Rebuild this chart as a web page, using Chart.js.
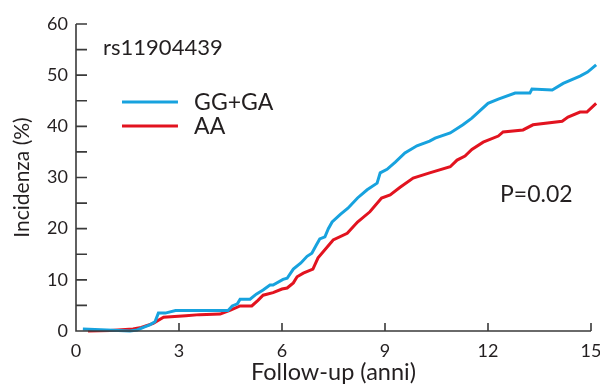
<!DOCTYPE html>
<html>
<head>
<meta charset="utf-8">
<script src="https://cdn.jsdelivr.net/npm/chart.js@4/dist/chart.umd.min.js"></script>
<style>
  html, body { margin: 0; padding: 0; background: #fff; }
  #wrap { width: 600px; height: 387px; }
</style>
</head>
<body>
<div id="wrap"><canvas id="myChart" width="600" height="387"></canvas></div>
<script>
// curve: follow-up years and incidence %
const blueX = [0.2, 0.9, 1.57, 1.78, 2.0, 2.15, 2.3, 2.4, 2.6, 2.9, 4.43, 4.55, 4.7, 4.78, 5.07, 5.25, 5.45, 5.65, 5.74, 6.03, 6.15, 6.33, 6.55, 6.73, 6.87, 7.0, 7.1, 7.25, 7.35, 7.46, 7.7, 7.92, 8.2, 8.48, 8.77, 8.86, 9.06, 9.3, 9.58, 9.93, 10.3, 10.46, 10.9, 11.27, 11.53, 12.0, 12.3, 12.79, 13.22, 13.28, 13.87, 14.19, 14.68, 14.9, 15.15]
const blueY = [0.4, 0.2, 0, 0.2, 0.8, 1.2, 1.8, 3.5, 3.5, 4.0, 4.0, 4.9, 5.3, 6.2, 6.2, 7.2, 8.0, 9.0, 9.0, 10.1, 10.3, 12.1, 13.3, 14.6, 15.2, 16.8, 18.0, 18.4, 20.0, 21.3, 22.8, 24.0, 26.0, 27.6, 28.9, 30.9, 31.6, 33.0, 34.8, 36.2, 37.1, 37.7, 38.7, 40.3, 41.6, 44.5, 45.3, 46.5, 46.5, 47.3, 47.1, 48.4, 49.8, 50.6, 52.0]
const redX = [0.35, 1.0, 1.66, 1.9, 2.25, 2.55, 3.2, 3.6, 4.2, 4.5, 4.78, 5.12, 5.3, 5.45, 5.74, 6.0, 6.15, 6.33, 6.44, 6.62, 6.9, 7.05, 7.49, 7.9, 8.2, 8.56, 8.9, 9.15, 9.44, 9.82, 10.3, 10.9, 11.1, 11.33, 11.53, 11.86, 12.3, 12.44, 13.02, 13.31, 14.16, 14.33, 14.68, 14.88, 15.15]
const redY = [0, 0.1, 0.4, 0.7, 1.5, 2.7, 3.0, 3.2, 3.3, 4.1, 4.9, 4.9, 6.0, 7.0, 7.5, 8.2, 8.4, 9.4, 10.6, 11.3, 12.1, 14.3, 17.8, 19.1, 21.3, 23.3, 26.0, 26.6, 28.1, 29.9, 30.9, 32.1, 33.4, 34.2, 35.5, 36.9, 38.1, 38.9, 39.3, 40.3, 41.0, 41.8, 42.8, 42.8, 44.5]

const seriesNames = ['GG+GA', 'AA']
const xTicks = [0, 3, 6, 9, 12, 15]
const yTicks = [0, 10, 20, 30, 40, 50, 60]
const yMinorTicks = [5, 15, 25, 35, 45, 55]
const snpLabel = 'rs11904439'
const pLabel = 'P=0.02'

const FONT = 'Lato, "Open Sans", sans-serif'
const INK = '#231f20'
const colors = ['#17a2de', '#e2131f']

const toPoints = (xs, ys) => xs.map((x, i) => ({ x: x, y: ys[i] }))

// axes with inward ticks + the text labels, all placed through the scales
const decorations = {
    id: 'decorations',
    afterDraw(chart) {
        const ctx = chart.ctx
        const xs = chart.scales.x
        const ys = chart.scales.y
        const left = xs.getPixelForValue(0)
        const right = xs.getPixelForValue(15)
        const top = ys.getPixelForValue(60)
        const bottom = ys.getPixelForValue(0)
        ctx.save()
        ctx.strokeStyle = '#3a3a3a'
        ctx.lineWidth = 1.6
        ctx.beginPath()
        ctx.moveTo(left, top)
        ctx.lineTo(left, bottom)
        ctx.lineTo(right, bottom)
        yTicks.concat(yMinorTicks).forEach((v) => {
            const py = ys.getPixelForValue(v)
            ctx.moveTo(left, py)
            ctx.lineTo(left + 11, py)
        })
        xTicks.forEach((v) => {
            const px = xs.getPixelForValue(v)
            ctx.moveTo(px, bottom)
            ctx.lineTo(px, bottom - 8)
        })
        ctx.stroke()

        ctx.fillStyle = INK
        ctx.textBaseline = 'middle'
        ctx.textAlign = 'left'
        ctx.font = '22px ' + FONT
        ctx.fillText(snpLabel, xs.getPixelForValue(0.79), ys.getPixelForValue(55.3))
        ctx.font = '23px ' + FONT
        ctx.fillText(pLabel, xs.getPixelForValue(12.35), ys.getPixelForValue(26.6))

        // legend
        const legY = [44.75, 40.05]
        seriesNames.forEach((name, i) => {
            const py = ys.getPixelForValue(legY[i])
            ctx.strokeStyle = colors[i]
            ctx.lineWidth = 3
            ctx.beginPath()
            ctx.moveTo(xs.getPixelForValue(1.34), py)
            ctx.lineTo(xs.getPixelForValue(2.97), py)
            ctx.stroke()
            ctx.fillStyle = INK
            ctx.font = '23px ' + FONT
            ctx.fillText(name, xs.getPixelForValue(3.44), py + 1)
        })
        ctx.restore()
    }
}

const ctx1 = document.getElementById('myChart')
let myChart = new Chart(ctx1, {
    type: 'scatter',
    data: {
        datasets: [
            {
                label: seriesNames[0],
                data: toPoints(blueX, blueY),
                borderColor: colors[0],
                borderWidth: 3,
                showLine: true,
                pointRadius: 0,
                tension: 0,
                clip: false
            },
            {
                label: seriesNames[1],
                data: toPoints(redX, redY),
                borderColor: colors[1],
                borderWidth: 3,
                showLine: true,
                pointRadius: 0,
                tension: 0,
                clip: false
            }
        ]
    },
    options: {
        responsive: false,
        animation: false,
        layout: { padding: { top: 24, right: 9, left: 0, bottom: 0 } },
        plugins: { legend: { display: false }, tooltip: { enabled: false } },
        scales: {
            x: {
                type: 'linear',
                min: 0,
                max: 15,
                afterBuildTicks: (scale) => { scale.ticks = xTicks.map((v) => ({ value: v })) },
                grid: { display: false, drawTicks: false },
                border: { display: false },
                ticks: { color: INK, font: { family: FONT, size: 18 }, padding: 9 },
                title: { display: true, text: 'Follow-up (anni)', color: INK, font: { family: FONT, size: 23.5 }, padding: { top: 0, bottom: 0 } },
                afterFit: (scale) => { scale.height = 56; scale.paddingRight = 0; scale.paddingLeft = 0 }
            },
            y: {
                type: 'linear',
                min: 0,
                max: 60,
                afterBuildTicks: (scale) => { scale.ticks = yTicks.map((v) => ({ value: v })) },
                grid: { display: false, drawTicks: false },
                border: { display: false },
                ticks: { color: INK, font: { family: FONT, size: 18 }, padding: 8 },
                title: { display: true, text: 'Incidenza (%)', color: INK, font: { family: FONT, size: 21 }, padding: { top: 10, bottom: 0 } },
                afterFit: (scale) => { scale.width = 76; scale.paddingTop = 0; scale.paddingBottom = 0 }
            }
        }
    },
    plugins: [decorations]
})
</script>
</body>
</html>
